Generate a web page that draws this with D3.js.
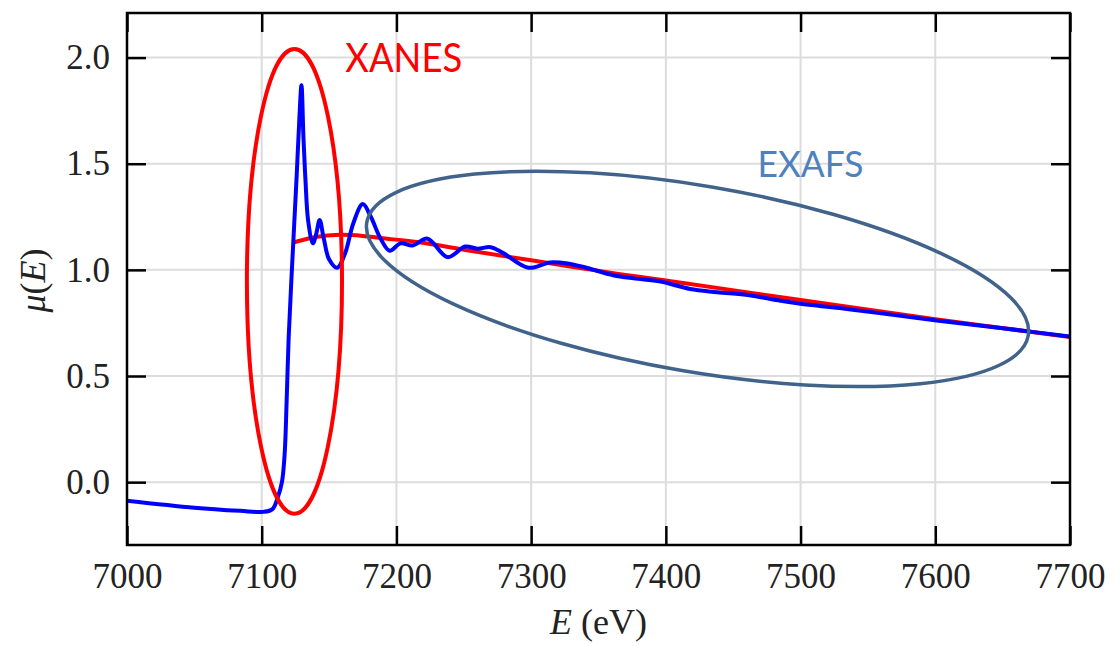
<!DOCTYPE html>
<html>
<head>
<meta charset="utf-8">
<title>XANES / EXAFS</title>
<script src="https://cdn.jsdelivr.net/npm/d3@7/dist/d3.min.js"></script>
<style>
  body { margin: 0; background: #fff; }
  .tick text { font-family: "Liberation Serif", "Times New Roman", serif; font-size: 35px; fill: #222; }
  .grid line { stroke: #dcdcdc; stroke-width: 2px; }
  .axis path { display: none; }
  .axis line { stroke: #000; stroke-width: 2.5px; }
  .frame { fill: none; stroke: #000; stroke-width: 2.5px; }
  .label { font-family: "Liberation Serif", "Times New Roman", serif; font-size: 36px; fill: #222; }
</style>
</head>
<body>
<div id="chart"></div>
<script>
// axis ticks
var xTicks = [7000, 7100, 7200, 7300, 7400, 7500, 7600, 7700];
var yTicks = [0.0, 0.5, 1.0, 1.5, 2.0];

// measured absorption mu(E), blue
var muE =  [7000, 7050, 7084, 7101, 7108, 7112, 7115, 7117, 7118.5, 7120, 7122, 7124, 7126, 7128, 7129.5,
            7131, 7132.5, 7134.5, 7138, 7140.5, 7143, 7146, 7150, 7156, 7162, 7168, 7175, 7181, 7188,
            7195, 7203, 7212, 7223, 7238, 7251, 7260, 7270, 7279, 7298, 7314, 7327, 7341, 7361,
            7376, 7396, 7418, 7438, 7462, 7485, 7500, 7529, 7560, 7601, 7650, 7700];
var muVal = [-0.087, -0.12, -0.135, -0.14, -0.127, -0.07, 0.0, 0.13, 0.38, 0.68, 0.95, 1.2, 1.45, 1.72, 1.87,
            1.62, 1.42, 1.23, 1.125, 1.17, 1.235, 1.15, 1.05, 1.01, 1.08, 1.22, 1.31, 1.25, 1.15,
            1.09, 1.125, 1.115, 1.147, 1.06, 1.11, 1.10, 1.107, 1.08, 1.01, 1.035, 1.03, 1.01, 0.975,
            0.96, 0.945, 0.91, 0.895, 0.88, 0.855, 0.84, 0.82, 0.795, 0.762, 0.725, 0.686];

// smooth background mu0(E), red
var bgE =   [7124, 7140, 7158, 7175, 7188, 7217, 7250, 7300, 7366, 7400, 7500, 7600, 7700];
var bgVal = [1.13, 1.155, 1.165, 1.16, 1.15, 1.13, 1.095, 1.045, 0.98, 0.95, 0.858, 0.768, 0.684];

var width = 1115, height = 646;
var margin = {top: 13, right: 45, bottom: 101, left: 127};
var w = width - margin.left - margin.right;
var h = height - margin.top - margin.bottom;

var x = d3.scaleLinear().domain([7000, 7700]).range([0, w]);
var y = d3.scaleLinear().domain([-0.296, 2.21]).range([h, 0]);

var svg = d3.select("#chart").append("svg")
  .attr("width", width)
  .attr("height", height);

var g = svg.append("g").attr("transform", "translate(" + margin.left + "," + margin.top + ")");

g.append("defs").append("clipPath").attr("id", "clip")
  .append("rect").attr("width", w).attr("height", h);

// grid
g.append("g").attr("class", "grid")
  .selectAll("line").data(xTicks.slice(1, -1)).enter().append("line")
  .attr("x1", x).attr("x2", x).attr("y1", 0).attr("y2", h);
g.append("g").attr("class", "grid")
  .selectAll("line").data(yTicks).enter().append("line")
  .attr("x1", 0).attr("x2", w).attr("y1", y).attr("y2", y);

// axes, ticks point inward on all four sides
g.append("g").attr("class", "axis")
  .attr("transform", "translate(0," + h + ")")
  .call(d3.axisBottom(x).tickValues(xTicks).tickSize(-19).tickPadding(18).tickFormat(d3.format("d")));
g.append("g").attr("class", "axis")
  .call(d3.axisTop(x).tickValues(xTicks).tickSize(-19).tickFormat(""));
g.append("g").attr("class", "axis")
  .call(d3.axisLeft(y).tickValues(yTicks).tickSize(-19).tickPadding(17).tickFormat(d3.format(".1f")));
g.append("g").attr("class", "axis")
  .attr("transform", "translate(" + w + ",0)")
  .call(d3.axisRight(y).tickValues(yTicks).tickSize(-19).tickFormat(""));

// curves
var line = d3.line()
  .x(function(d) { return x(d[0]); })
  .y(function(d) { return y(d[1]); })
  .curve(d3.curveCatmullRom.alpha(0.5));

var plot = g.append("g").attr("clip-path", "url(#clip)");

plot.append("path")
  .datum(d3.zip(bgE, bgVal))
  .attr("fill", "none")
  .attr("stroke", "#ff0000")
  .attr("stroke-width", 4)
  .attr("d", line);

plot.append("path")
  .datum(d3.zip(muE, muVal))
  .attr("fill", "none")
  .attr("stroke", "#0000ff")
  .attr("stroke-width", 4)
  .attr("stroke-linejoin", "round")
  .attr("d", line);

// XANES ellipse
var xanes = {e: 7124.3, mu: 0.946, re: 35.3, rmu: 1.095};
g.append("ellipse")
  .attr("cx", x(xanes.e))
  .attr("cy", y(xanes.mu))
  .attr("rx", x(xanes.e + xanes.re) - x(xanes.e))
  .attr("ry", y(0) - y(xanes.rmu))
  .attr("fill", "none")
  .attr("stroke", "#ff0000")
  .attr("stroke-width", 4);

// EXAFS ellipse, tilted: major axis between two points, minor semi-axis in mu units
var exafs = {e1: 7178, mu1: 1.224, e2: 7669, mu2: 0.691, b: 0.438};
var p1 = [x(exafs.e1), y(exafs.mu1)], p2 = [x(exafs.e2), y(exafs.mu2)];
var cx = (p1[0] + p2[0]) / 2, cy = (p1[1] + p2[1]) / 2;
var a = Math.hypot(p2[0] - p1[0], p2[1] - p1[1]) / 2;
var ang = Math.atan2(p2[1] - p1[1], p2[0] - p1[0]) * 180 / Math.PI;
g.append("ellipse")
  .attr("cx", 0).attr("cy", 0)
  .attr("rx", a)
  .attr("ry", y(0) - y(exafs.b))
  .attr("transform", "translate(" + cx + "," + cy + ") rotate(" + ang + ")")
  .attr("fill", "none")
  .attr("stroke", "#41638b")
  .attr("stroke-width", 3.5);

// annotation labels
g.append("text")
  .attr("x", x(7162)).attr("y", y(1.932))
  .attr("textLength", 117).attr("lengthAdjust", "spacingAndGlyphs")
  .style("font-family", "Lato, 'Open Sans', sans-serif").style("font-size", "40px")
  .attr("fill", "#ff0000")
  .text("XANES");
g.append("text")
  .attr("x", x(7468)).attr("y", y(1.436))
  .attr("textLength", 106).attr("lengthAdjust", "spacingAndGlyphs")
  .style("font-family", "Lato, 'Open Sans', sans-serif").style("font-size", "37px")
  .attr("fill", "#4f81bd")
  .text("EXAFS");

// frame
g.append("rect").attr("class", "frame").attr("width", w).attr("height", h);

// axis titles
var xl = g.append("text").attr("class", "label")
  .attr("x", w / 2).attr("y", h + 89)
  .attr("text-anchor", "middle");
xl.append("tspan").style("font-style", "italic").text("E");
xl.append("tspan").text(" (eV)");

var yl = g.append("text").attr("class", "label")
  .attr("transform", "translate(" + (-82) + "," + (y(0.95)) + ") rotate(-90)")
  .attr("text-anchor", "middle");
yl.append("tspan").style("font-style", "italic").text("μ");
yl.append("tspan").text("(");
yl.append("tspan").style("font-style", "italic").text("E");
yl.append("tspan").text(")");
</script>
</body>
</html>
